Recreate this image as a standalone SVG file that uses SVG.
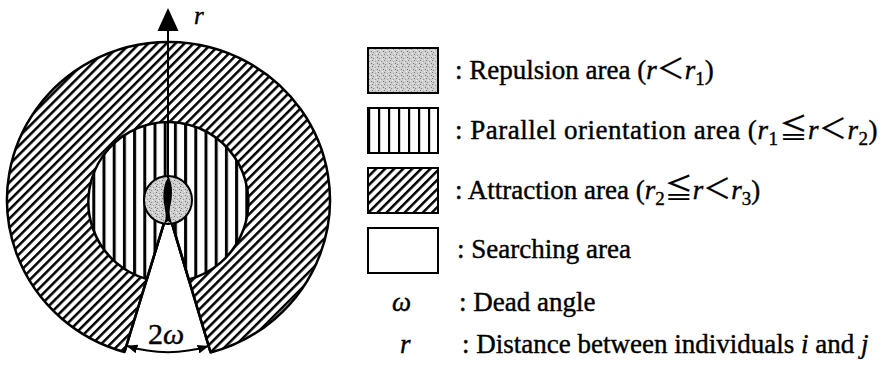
<svg xmlns="http://www.w3.org/2000/svg" width="886" height="370" viewBox="0 0 886 370">
<style>
.t{font-family:"Liberation Serif","Times New Roman",serif;font-size:27px;fill:#000;stroke:#000;stroke-width:0.4}
.i{font-style:italic}
.cjk{font-family:"Noto Sans CJK JP","Noto Sans CJK SC",serif;font-size:28px;stroke-width:0.2}
.sub{font-size:19px}
.ol{stroke:#000;stroke-width:2.5;stroke-linejoin:round}
.box{stroke:#000;stroke-width:2}
</style>
<defs>
<pattern id="hatch" width="6.4" height="6.4" patternUnits="userSpaceOnUse" patternTransform="rotate(45)">
<rect width="6.4" height="6.4" fill="#fff"/>
<rect x="0" y="0" width="2.5" height="6.4" fill="#000"/>
</pattern>
<pattern id="vert" width="10.2" height="10" patternUnits="userSpaceOnUse" x="0.5">
<rect width="10.2" height="10" fill="#fff"/>
<rect x="0" y="0" width="3" height="10" fill="#000"/>
</pattern>
<pattern id="vertL" width="10" height="10" patternUnits="userSpaceOnUse" x="368">
<rect width="10" height="10" fill="#fff"/>
<rect x="0" y="0" width="2.2" height="10" fill="#000"/>
</pattern>
<pattern id="stip" width="6" height="6" patternUnits="userSpaceOnUse">
<rect width="6" height="6" fill="#cfcfcf"/>
<rect x="0" y="0" width="1" height="1" fill="#777"/>
<rect x="3" y="1" width="1" height="1" fill="#999"/>
<rect x="5" y="3" width="1" height="1" fill="#777"/>
<rect x="1" y="4" width="1" height="1" fill="#888"/>
<rect x="4" y="5" width="1" height="1" fill="#eee"/>
<rect x="2" y="2" width="1" height="1" fill="#f0f0f0"/>
</pattern>
<marker id="ah" viewBox="0 0 10 8" refX="10" refY="4" markerWidth="11" markerHeight="9" markerUnits="userSpaceOnUse" orient="auto-start-reverse">
<path d="M0,0 L10,4 L0,8 Z" fill="#000"/>
</marker>
</defs>

<g id="attraction-area">
<path class="ol" d="M210.6,352.5 A161.5,158 0 1 0 124.5,352 L168,210 Z" fill="url(#hatch)"/>
</g>
<g id="parallel-area">
<path class="ol" d="M188.7,279.4 A80,80 0 1 0 146.9,279.1 L168,210 Z" fill="url(#vert)" stroke-width="2"/>
</g>
<g id="searching-area">
<path d="M124.5,352 L168,210 L210.6,352.5" fill="none" stroke="#000" stroke-width="2.5" stroke-linejoin="round"/>
</g>
<g id="repulsion-area">
<circle cx="168" cy="200" r="24" fill="url(#stip)" stroke="#000" stroke-width="2"/>
</g>
<g id="individual">
<path d="M168.5,177 C172.5,183 173,195 170.5,205 C169.5,210 169,214 171,220 L172,224 L168,221 L164,224 L165.5,219 C166.5,213 164,207 163.5,199 C163,190 165,181 168.5,177 Z" fill="#000"/>
</g>
<g id="connectors">
<line x1="168" y1="178" x2="168" y2="30" stroke="#000" stroke-width="2"/>
<polygon points="168,8 157.5,31 178.5,31" fill="#000"/>
<path d="M126.45,345.78 A142,142 0 0 0 208.68,346.05" fill="none" stroke="#000" stroke-width="2" marker-start="url(#ah)" marker-end="url(#ah)"/>
</g>
<g id="labels">
<text class="t i" x="194" y="24" style="font-size:25px">r</text>
<text class="t" x="166" y="344" text-anchor="middle" style="font-size:30px">2<tspan class="i">ω</tspan></text>
</g>

<g id="legend-repulsion">
<rect class="box" x="368" y="48" width="70" height="45" fill="url(#stip)"/>
<text class="t" x="455" y="79">: Repulsion area (<tspan class="i">r</tspan><tspan class="cjk">＜</tspan><tspan class="i">r</tspan><tspan class="sub" dy="6">1</tspan><tspan dy="-6">)</tspan></text>
</g>
<g id="legend-parallel">
<rect class="box" x="368" y="108" width="70" height="45" fill="url(#vertL)"/>
<text class="t" x="455" y="139" letter-spacing="0.5">: Parallel orientation area (<tspan class="i">r</tspan><tspan class="sub" dy="6">1</tspan><tspan class="cjk" dy="-6" dx="1">≦</tspan><tspan class="i">r</tspan><tspan class="cjk">＜</tspan><tspan class="i">r</tspan><tspan class="sub" dy="6">2</tspan><tspan dy="-6">)</tspan></text>
</g>
<g id="legend-attraction">
<rect class="box" x="368" y="168" width="70" height="45" fill="url(#hatch)"/>
<text class="t" x="455" y="199">: Attraction area (<tspan class="i">r</tspan><tspan class="sub" dy="6">2</tspan><tspan class="cjk" dy="-6">≦</tspan><tspan class="i">r</tspan><tspan class="cjk">＜</tspan><tspan class="i">r</tspan><tspan class="sub" dy="6">3</tspan><tspan dy="-6">)</tspan></text>
</g>
<g id="legend-searching">
<rect class="box" x="368" y="228" width="70" height="45" fill="#fff"/>
<text class="t" x="457" y="258">: Searching area</text>
</g>
<g id="legend-omega">
<text class="t i" x="392" y="311">ω</text>
<text class="t" x="459" y="311">: Dead angle</text>
</g>
<g id="legend-r">
<text class="t i" x="400" y="353">r</text>
<text class="t" x="462" y="353">: Distance between individuals <tspan class="i">i</tspan> and <tspan class="i">j</tspan></text>
</g>
</svg>
